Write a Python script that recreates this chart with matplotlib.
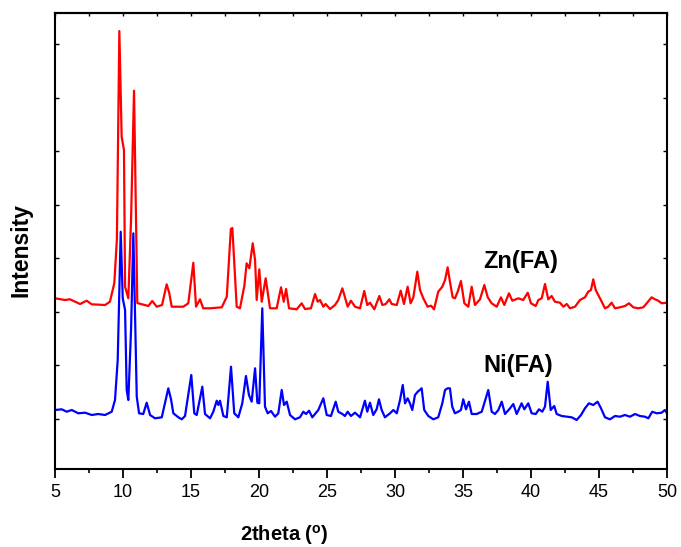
import matplotlib
matplotlib.use("Agg")
import matplotlib.pyplot as plt
from matplotlib.ticker import MultipleLocator, NullFormatter
import numpy as np

plt.rcParams['font.family'] = ['Liberation Sans', 'DejaVu Sans']
plt.rcParams['mathtext.fontset'] = 'custom'
plt.rcParams['mathtext.rm'] = 'Liberation Sans:bold'
plt.rcParams['mathtext.bf'] = 'Liberation Sans:bold'

# ---- data: 2theta (deg) and displayed intensity (a.u.) ----
zn_2theta = [5.00, 5.74, 6.10, 6.84, 7.33, 7.70, 8.68, 9.04, 9.36, 9.55, 9.73, 9.90, 10.07, 10.15,
             10.39, 10.59, 10.81, 11.05, 11.86, 12.15, 12.48, 12.87, 13.21, 13.40, 13.58, 14.43,
             14.80, 15.17, 15.37, 15.66, 15.90, 16.40, 17.26, 17.63, 17.93, 18.04, 18.36, 18.60,
             18.92, 19.09, 19.29, 19.54, 19.71, 19.83, 20.02, 20.20, 20.49, 20.81, 21.30, 21.62,
             21.82, 21.99, 22.21, 22.77, 23.14, 23.38, 23.82, 24.12, 24.32, 24.49, 24.73, 24.90,
             25.22, 25.59, 25.83, 26.13, 26.52, 26.76, 27.06, 27.43, 27.74, 27.96, 28.16, 28.48,
             28.85, 29.07, 29.32, 29.58, 29.76, 30.13, 30.42, 30.66, 30.93, 31.15, 31.35, 31.64,
             31.84, 32.08, 32.40, 32.65, 32.87, 33.18, 33.48, 33.68, 33.87, 34.04, 34.24, 34.41,
             34.61, 34.85, 35.10, 35.39, 35.64, 35.88, 36.25, 36.57, 36.82, 37.11, 37.48, 37.79,
             38.04, 38.38, 38.63, 39.07, 39.43, 39.76, 40.00, 40.35, 40.54, 40.79, 41.03, 41.27,
             41.52, 41.76, 42.13, 42.38, 42.63, 42.87, 43.24, 43.60, 43.97, 44.21, 44.41, 44.58,
             44.76, 44.95, 45.20, 45.44, 45.68, 45.93, 46.18, 46.54, 46.91, 47.21, 47.52, 47.89,
             48.26, 48.51, 48.87, 49.12, 49.36, 49.61, 49.98]
zn_intensity = [1707, 1690, 1697, 1650, 1683, 1647, 1640, 1673, 1860, 2300, 4380, 3323, 3190, 1823,
                1707, 2490, 3783, 1660, 1630, 1680, 1623, 1640, 1847, 1760, 1623, 1623,
                1657, 2063, 1623, 1697, 1607, 1607, 1617, 1723, 2400, 2410, 1623, 1607,
                1830, 2057, 2007, 2257, 2090, 1690, 1997, 1673, 1907, 1607, 1607, 1817,
                1673, 1800, 1607, 1597, 1657, 1600, 1607, 1750, 1673, 1690, 1623, 1650,
                1600, 1640, 1690, 1807, 1623, 1683, 1623, 1607, 1780, 1640, 1663, 1597,
                1730, 1640, 1650, 1697, 1650, 1640, 1783, 1650, 1823, 1657, 1717, 1973,
                1790, 1707, 1623, 1633, 1597, 1773, 1823, 1890, 2017, 1873, 1717, 1707,
                1773, 1880, 1657, 1623, 1823, 1640, 1697, 1840, 1717, 1657, 1623, 1717,
                1640, 1757, 1683, 1707, 1690, 1763, 1657, 1630, 1690, 1707, 1850, 1697,
                1730, 1673, 1663, 1623, 1650, 1607, 1623, 1690, 1717, 1773, 1790, 1897,
                1790, 1740, 1673, 1607, 1623, 1663, 1607, 1617, 1630, 1657, 1617, 1607,
                1617, 1657, 1717, 1697, 1683, 1657, 1663]

ni_2theta = [5.00, 5.49, 5.86, 6.23, 6.71, 7.21, 7.70, 8.18, 8.68, 9.17, 9.41, 9.61, 9.83, 9.98,
             10.15, 10.27, 10.39, 10.59, 10.76, 11.01, 11.18, 11.49, 11.74, 11.99, 12.35, 12.85,
             13.33, 13.53, 13.70, 14.07, 14.32, 14.56, 15.02, 15.24, 15.42, 15.83, 16.03, 16.40,
             16.64, 16.89, 17.01, 17.13, 17.38, 17.63, 17.94, 18.18, 18.48, 18.77, 19.04, 19.26,
             19.46, 19.71, 19.88, 20.02, 20.24, 20.44, 20.64, 20.88, 21.18, 21.42, 21.67, 21.84,
             22.04, 22.28, 22.65, 23.01, 23.26, 23.46, 23.68, 23.92, 24.36, 24.73, 24.98, 25.29,
             25.64, 25.83, 26.13, 26.32, 26.52, 26.76, 27.06, 27.43, 27.79, 27.96, 28.16, 28.40,
             28.65, 28.82, 29.02, 29.26, 29.63, 29.88, 30.13, 30.37, 30.57, 30.74, 30.93, 31.10,
             31.27, 31.47, 31.67, 31.96, 32.15, 32.45, 32.82, 33.18, 33.48, 33.68, 33.87, 34.04,
             34.21, 34.41, 34.65, 34.85, 35.02, 35.22, 35.44, 35.64, 36.01, 36.38, 36.86, 37.11,
             37.35, 37.60, 37.85, 38.09, 38.46, 38.70, 38.95, 39.31, 39.51, 39.80, 40.05, 40.35,
             40.59, 40.83, 41.03, 41.23, 41.45, 41.71, 41.89, 42.26, 42.63, 42.99, 43.36, 43.68,
             43.97, 44.26, 44.58, 44.90, 45.15, 45.44, 45.81, 46.18, 46.54, 46.91, 47.28, 47.65,
             48.01, 48.38, 48.63, 48.92, 49.24, 49.61, 49.85, 50.00]
ni_intensity = [590, 597, 573, 590, 557, 563, 540, 550, 540, 573, 690, 1090, 2373, 1707,
                1590, 790, 690, 1390, 2357, 723, 557, 550, 663, 540, 507, 517,
                807, 697, 557, 517, 497, 530, 940, 557, 540, 823, 550, 507,
                573, 683, 640, 683, 530, 517, 1023, 557, 517, 657, 930, 740,
                673, 1007, 663, 657, 1607, 623, 557, 580, 523, 557, 790, 640,
                673, 540, 497, 517, 573, 550, 583, 517, 590, 707, 540, 530,
                673, 573, 550, 530, 573, 530, 563, 517, 683, 573, 663, 540,
                597, 697, 590, 517, 557, 590, 557, 690, 840, 657, 707, 657,
                590, 740, 773, 807, 590, 530, 497, 517, 657, 790, 807, 807,
                623, 557, 573, 590, 697, 597, 673, 550, 550, 573, 790, 573,
                550, 590, 673, 550, 607, 650, 550, 657, 597, 657, 557, 550,
                597, 573, 623, 873, 590, 630, 550, 530, 523, 517, 490, 540,
                607, 657, 640, 673, 607, 517, 497, 530, 523, 540, 523, 550,
                530, 523, 507, 573, 557, 563, 590, 557]

labels = ["Zn(FA)", "Ni(FA)"]
x_ticks = [5, 10, 15, 20, 25, 30, 35, 40, 45, 50]

fig = plt.figure(figsize=(6.81, 5.47), dpi=100)
ax = fig.add_axes([0.0808, 0.1426, 0.8986, 0.8336])

ax.plot(zn_2theta, zn_intensity, color='#ff0000', lw=1.6, solid_joinstyle='round')
ax.plot(ni_2theta, ni_intensity, color='#0000ff', lw=1.6, solid_joinstyle='round')

ax.text(36.47, 2010, labels[0], fontsize=17, fontweight='bold', ha='left', va='baseline')
ax.text(36.47, 973, labels[1], fontsize=17, fontweight='bold', ha='left', va='baseline')

ax.set_xlim(5, 50)
ax.set_ylim(0, 4560)
ax.set_xticks(x_ticks)
ax.xaxis.set_minor_locator(MultipleLocator(2.5))
ax.set_yticks(np.arange(505, 4560, 535))
ax.yaxis.set_major_formatter(NullFormatter())

for s in ax.spines.values():
    s.set_linewidth(1.5)

ax.tick_params(axis='x', which='major', direction='out', length=6.5, width=1.3,
               labelsize=13, pad=4, top=False)
ax.tick_params(axis='x', which='minor', direction='out', length=3.2, width=1.2, top=False)
ax.tick_params(axis='y', which='major', direction='in', length=3, width=1.0,
               left=True, right=True, labelleft=False)

top = ax.secondary_xaxis('top')
top.set_xticks(np.arange(5, 50.1, 2.5))
top.tick_params(direction='in', length=2.5, width=1.0, labeltop=False)
top.xaxis.set_major_formatter(NullFormatter())
top.spines['top'].set_linewidth(1.5)

ax.set_xlabel(r"2theta ($^{\mathrm{o}}$)", fontsize=14.5, fontweight='bold')
ax.xaxis.set_label_coords(0.374, -0.118)
ax.set_ylabel("Intensity", fontsize=16.5, fontweight='bold')
ax.yaxis.set_label_coords(-0.036, 0.48)

fig.savefig("out.png", dpi=100)
